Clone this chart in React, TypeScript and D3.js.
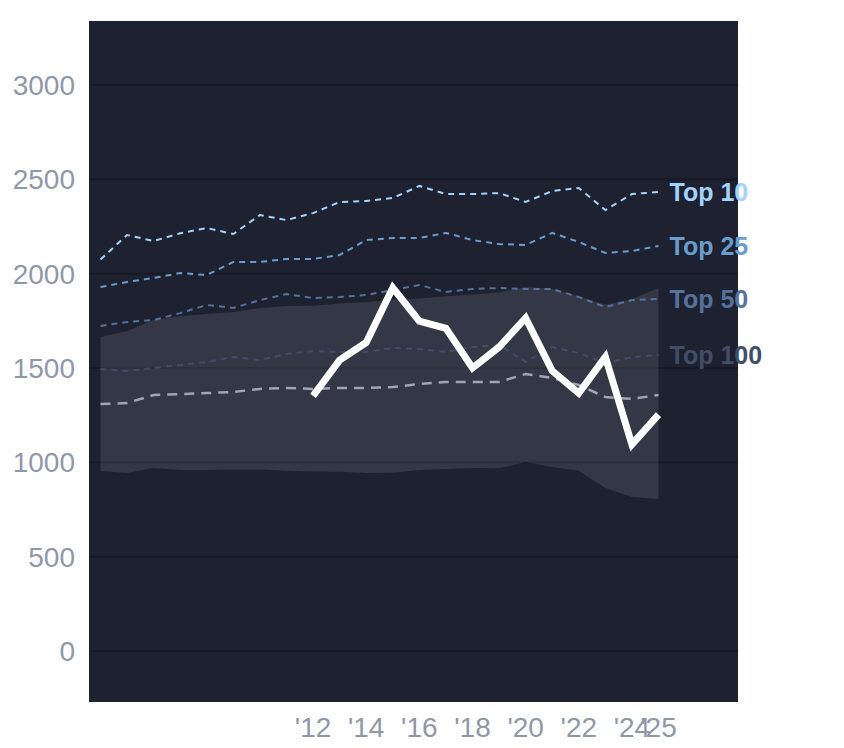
import React from "react";
import * as d3 from "d3";

const years = d3.range(2004, 2026);
const bandUpper = [1664, 1696, 1754, 1776, 1786, 1797, 1818, 1829, 1830, 1842, 1850, 1862, 1868, 1880, 1890, 1900, 1929, 1920, 1880, 1835, 1866, 1924];
const bandLower = [954, 943, 970, 959, 959, 962, 962, 955, 952, 950, 943, 945, 959, 965, 970, 968, 1002, 975, 955, 864, 816, 805];
const top10 = [2075, 2205, 2173, 2214, 2242, 2210, 2311, 2284, 2321, 2380, 2385, 2401, 2465, 2422, 2422, 2427, 2380, 2438, 2454, 2337, 2422, 2433];
const top25 = [1929, 1956, 1977, 2003, 1993, 2062, 2062, 2078, 2078, 2099, 2178, 2189, 2189, 2216, 2178, 2157, 2152, 2216, 2168, 2110, 2120, 2147];
const top50 = [1723, 1744, 1754, 1791, 1834, 1818, 1860, 1892, 1871, 1876, 1887, 1913, 1940, 1903, 1919, 1924, 1919, 1919, 1876, 1823, 1860, 1866];
const top100 = [1495, 1484, 1500, 1516, 1532, 1558, 1542, 1574, 1590, 1585, 1585, 1606, 1601, 1585, 1611, 1622, 1532, 1611, 1579, 1526, 1558, 1569];
const median = [1309, 1314, 1357, 1362, 1367, 1373, 1389, 1394, 1389, 1394, 1394, 1399, 1415, 1426, 1426, 1426, 1468, 1447, 1410, 1346, 1336, 1357];
const mainYears = d3.range(2012, 2026);
const mainValues = [1352, 1542, 1635, 1925, 1748, 1710, 1500, 1611, 1765, 1485, 1367, 1558, 1095, 1253];
const xTicks = [2012, 2014, 2016, 2018, 2020, 2022, 2024, 2025];
const yTicks = [0, 500, 1000, 1500, 2000, 2500, 3000];

const refLines = [
  { label: "Top 10", values: top10, color: "#a3d3fb" },
  { label: "Top 25", values: top25, color: "#6a9dcb" },
  { label: "Top 50", values: top50, color: "#56729a" },
  { label: "Top 100", values: top100, color: "#414e68" },
];

export default function App() {
  const W = 844, H = 748;
  const plot = { x0: 89, x1: 738, y0: 21, y1: 702 };
  const x = d3.scaleLinear().domain([2004, 2025]).range([100.5, 658.5]);
  const y = d3.scaleLinear().domain([0, 3000]).range([651, 85]);
  const font = "'Liberation Sans', Arial, Helvetica, sans-serif";

  const area = d3
    .area<number>()
    .x((_, i) => x(years[i]))
    .y0((_, i) => y(bandLower[i]))
    .y1((d) => y(d));
  const line = (vals: number[], yrs: number[]) =>
    d3
      .line<number>()
      .x((_, i) => x(yrs[i]))
      .y((d) => y(d))(vals) as string;

  return (
    <svg width={W} height={H} style={{ position: "absolute", left: 0, top: 0 }}>
      <rect x={0} y={0} width={W} height={H} fill="#ffffff" />
      <rect x={plot.x0} y={plot.y0} width={plot.x1 - plot.x0} height={plot.y1 - plot.y0} fill="#1d2130" />
      {yTicks.map((t) => (
        <line key={t} x1={plot.x0} x2={plot.x1} y1={y(t)} y2={y(t)} stroke="#171a24" strokeWidth={2} />
      ))}
      <path d={area(bandUpper) as string} fill="#ffffff" fillOpacity={0.1} />
      <path d={line(median, years)} fill="none" stroke="#a0a5b1" strokeWidth={2.5} strokeDasharray="10,7" />
      {refLines.map((r) => (
        <path key={r.label} d={line(r.values, years)} fill="none" stroke={r.color} strokeWidth={2} strokeDasharray="6,5" />
      ))}
      <path d={line(mainValues, mainYears)} fill="none" stroke="#ffffff" strokeWidth={7} strokeLinejoin="miter" />
      {refLines.map((r) => (
        <text
          key={r.label + "t"}
          x={x(2025) + 11}
          y={y(r.values[r.values.length - 1])}
          dy="0.35em"
          fill={r.color}
          fontFamily={font}
          fontWeight="bold"
          fontSize={25}
        >
          {r.label}
        </text>
      ))}
      {yTicks.map((t) => (
        <text key={"y" + t} x={75} y={y(t)} dy="0.36em" textAnchor="end" fill="#8f98a9" fontFamily={font} fontSize={28}>
          {t}
        </text>
      ))}
      {xTicks.map((t) => (
        <text key={"x" + t} x={x(t)} y={737} textAnchor="middle" fill="#8f98a9" fontFamily={font} fontSize={28}>
          {"'" + String(t).slice(2)}
        </text>
      ))}
    </svg>
  );
}
